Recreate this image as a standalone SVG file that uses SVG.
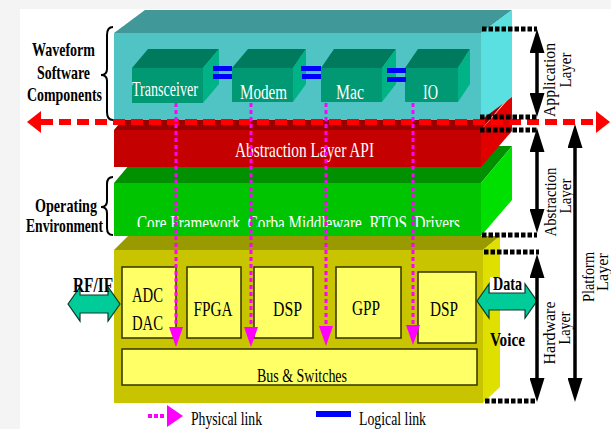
<svg xmlns="http://www.w3.org/2000/svg" width="611" height="429" viewBox="0 0 611 429">
<style>
text{font-family:"Liberation Serif","Times New Roman",serif;}
.lbl{font-weight:bold;font-size:19px;fill:#000;text-anchor:middle;}
.wt{fill:#fff;font-size:20px;text-anchor:middle;}
.hw{font-size:21px;fill:#000;text-anchor:middle;}
.rot{font-size:17px;fill:#000;text-anchor:middle;}
.leg{font-size:18px;fill:#000;}
.hbox{fill:#ffff66;stroke:#333300;stroke-width:1.5;}
.pink{stroke:#ff00ff;stroke-width:3;stroke-dasharray:4 3;fill:none;marker-end:url(#pa);}
.blk{stroke:#000;stroke-width:3.5;marker-start:url(#ba);marker-end:url(#ba);}
.dot{stroke:#000;stroke-width:5;stroke-dasharray:4.5 2;}
.blue{fill:#0000ff;}
.garrow{fill:#00cc99;stroke:#0a3a2a;stroke-width:1.2;}
.cf{fill:#009973;}.ct{fill:#007a5c;}.cr{fill:#00b386;}
.brace{fill:none;stroke:#000;stroke-width:2;}
</style>
<defs>
<marker id="pa" markerUnits="userSpaceOnUse" viewBox="0 0 20 14" markerWidth="20" markerHeight="14" refX="0" refY="7" orient="auto"><path d="M0,0 L20,7 L0,14 z" fill="#ff00ff"/></marker>
<marker id="ba" markerUnits="userSpaceOnUse" viewBox="0 0 24 15" markerWidth="24" markerHeight="15" refX="4" refY="7.5" orient="auto-start-reverse"><path d="M0,0 L24,7.5 L0,15 z" fill="#000"/></marker>
<marker id="ra" markerUnits="userSpaceOnUse" viewBox="0 0 14 22" markerWidth="14" markerHeight="22" refX="0" refY="11" orient="auto-start-reverse"><path d="M0,0 L14,11 L0,22 z" fill="#ff0000"/></marker>
<clipPath id="cfclip"><rect x="114" y="183" width="367" height="44"/></clipPath>
</defs>
<rect x="0" y="0" width="611" height="429" fill="#f4f4f4"/>
<rect x="20" y="9" width="591" height="420" fill="#fff"/>

<g id="hardware-layer-box">
<polygon points="114,250 128,236 500,236 483,250" fill="#999900"/>
<polygon points="483,250 500,236 500,387 483,403" fill="#e0e000"/>
<rect x="114" y="250" width="369" height="153" fill="#c8c400"/>
</g>
<g id="os-layer-box">
<polygon points="114,183 145,146 512,146 481,183" fill="#009000"/>
<polygon points="481,183 512,146 512,200 481,236" fill="#00e000"/>
<rect x="114" y="183" width="367" height="53" fill="#00c400"/>
<text class="wt" x="298.5" y="230" textLength="323" lengthAdjust="spacingAndGlyphs" clip-path="url(#cfclip)">Core Framework, Corba Middleware, RTOS, Drivers</text>
</g>
<g id="api-layer-box">
<polygon points="114,130 145,93 512,93 481,130" fill="#990000"/>
<polygon points="481,130 512,95 512,131 481,167" fill="#e00000"/>
<rect x="114" y="130" width="367" height="37" fill="#c40000"/>
<text class="wt" x="304.5" y="157" textLength="139" lengthAdjust="spacingAndGlyphs" style="font-size:21px">Abstraction Layer API</text>
</g>
<g id="application-layer-box">
<polygon points="114,33 145,10 512,10 481,33" fill="#409898"/>
<polygon points="481,33 512,10 512,97 481,120" fill="#5ae0e0"/>
<rect x="114" y="33" width="367" height="87" fill="#50c4c4"/>
</g>

<g id="transceiver">
<polygon class="ct" points="132,68 148,49 219,49 203,68"/>
<polygon class="cr" points="203,68 219,49 219,84 203,103"/>
<rect class="cf" x="132" y="68" width="71" height="35"/>
<text class="wt" x="165" y="96" textLength="66" lengthAdjust="spacingAndGlyphs">Transceiver</text>
</g>
<g id="modem">
<polygon class="ct" points="232,68 248,49 306,49 293,68"/>
<polygon class="cr" points="293,68 306,49 306,84 293,102"/>
<rect class="cf" x="232" y="68" width="61" height="34"/>
<text class="wt" x="263.5" y="99" textLength="47" lengthAdjust="spacingAndGlyphs">Modem</text>
</g>
<g id="mac">
<polygon class="ct" points="321,68 334,49 396,49 382,68"/>
<polygon class="cr" points="382,68 396,49 396,84 382,102"/>
<rect class="cf" x="321" y="68" width="61" height="34"/>
<text class="wt" x="350" y="99" textLength="28" lengthAdjust="spacingAndGlyphs">Mac</text>
</g>
<g id="io">
<polygon class="ct" points="405,68 418,49 470,49 458,68"/>
<polygon class="cr" points="458,68 470,49 470,84 458,102"/>
<rect class="cf" x="405" y="68" width="53" height="34"/>
<text class="wt" x="430.5" y="99" textLength="15" lengthAdjust="spacingAndGlyphs">IO</text>
</g>

<g id="adc-dac">
<rect class="hbox" x="122" y="267" width="54" height="71"/>
<text class="hw" x="147.5" y="302" textLength="31" lengthAdjust="spacingAndGlyphs">ADC</text>
<text class="hw" x="147.5" y="330" textLength="31" lengthAdjust="spacingAndGlyphs">DAC</text>
</g>
<g id="fpga">
<rect class="hbox" x="187" y="267" width="54" height="71"/>
<text class="hw" x="213" y="316" textLength="39" lengthAdjust="spacingAndGlyphs">FPGA</text>
</g>
<g id="dsp1">
<rect class="hbox" x="254" y="267" width="59" height="71"/>
<text class="hw" x="287.5" y="316" textLength="29" lengthAdjust="spacingAndGlyphs">DSP</text>
</g>
<g id="gpp">
<rect class="hbox" x="336" y="267" width="65" height="71"/>
<text class="hw" x="366" y="315" textLength="28" lengthAdjust="spacingAndGlyphs">GPP</text>
</g>
<g id="dsp2">
<rect class="hbox" x="418" y="272" width="58" height="71"/>
<text class="hw" x="444" y="316" textLength="28" lengthAdjust="spacingAndGlyphs">DSP</text>
</g>
<g id="bus">
<rect class="hbox" x="122" y="349" width="355" height="36"/>
<text class="hw" x="302" y="382" style="font-size:19px" textLength="90" lengthAdjust="spacingAndGlyphs">Bus &amp; Switches</text>
</g>

<g id="side-labels">
<path class="brace" d="M113,27 Q107,27 107,35 L107,69 Q107,75 101,75 Q107,75 107,81 L107,112 Q107,120 113,120"/>
<text class="lbl" x="63.5" y="56" textLength="63" lengthAdjust="spacingAndGlyphs">Waveform</text>
<text class="lbl" x="63.5" y="79" textLength="53" lengthAdjust="spacingAndGlyphs">Software</text>
<text class="lbl" x="64.5" y="101" textLength="75" lengthAdjust="spacingAndGlyphs">Components</text>
<path class="brace" d="M113,177 Q107,177 107,184 L107,201 Q107,207 101,207 Q107,207 107,213 L107,228 Q107,235 113,235"/>
<text class="lbl" x="66" y="212" textLength="62" lengthAdjust="spacingAndGlyphs">Operating</text>
<text class="lbl" x="64.5" y="232" textLength="77" lengthAdjust="spacingAndGlyphs">Environment</text>
</g>

<g id="connectors">
<line x1="41" y1="122" x2="596" y2="122" stroke="#ff0000" stroke-width="6" stroke-dasharray="12 6" marker-start="url(#ra)" marker-end="url(#ra)"/>
<rect class="blue" x="213" y="66" width="19" height="5"/>
<rect class="blue" x="213" y="74" width="19" height="5"/>
<rect class="blue" x="301" y="66" width="20" height="5"/>
<rect class="blue" x="302" y="74" width="19" height="5"/>
<rect class="blue" x="387" y="68" width="19" height="5"/>
<rect class="blue" x="387" y="77" width="19" height="5"/>
<line class="pink" x1="176" y1="103" x2="176" y2="327"/>
<line class="pink" x1="251" y1="103" x2="251" y2="327"/>
<line class="pink" x1="326" y1="103" x2="326" y2="326"/>
<line class="pink" x1="413" y1="103" x2="413" y2="325"/>
<polygon class="garrow" points="68,304 80,287 80,295 108,295 108,287 120,304 108,321 108,313 80,313 80,321"/>
<text class="lbl" x="93" y="292" style="font-size:21px" textLength="40" lengthAdjust="spacingAndGlyphs">RF/IF</text>
<rect x="490" y="277" width="34" height="17" fill="#fff"/>
<polygon class="garrow" points="477,301 489,284 489,293 525,293 525,284 537,301 525,318 525,310 489,310 489,318"/>
<text class="lbl" x="507.5" y="290" textLength="29" lengthAdjust="spacingAndGlyphs">Data</text>
<text class="lbl" x="507.5" y="346" textLength="35" lengthAdjust="spacingAndGlyphs">Voice</text>
<line class="dot" x1="482" y1="29" x2="537" y2="29"/>
<line class="dot" x1="480" y1="117" x2="537" y2="117"/>
<line class="dot" x1="480" y1="130" x2="537" y2="130"/>
<line class="dot" x1="482" y1="235" x2="537" y2="235"/>
<line class="dot" x1="484" y1="252" x2="539" y2="252"/>
<line class="dot" x1="485" y1="401" x2="537" y2="401"/>
<line class="blk" x1="537" y1="49" x2="537" y2="97"/>
<line class="blk" x1="537" y1="148" x2="537" y2="213"/>
<line class="blk" x1="537" y1="274" x2="537" y2="382"/>
<line class="blk" x1="575" y1="144" x2="575" y2="382"/>
</g>

<g id="layer-labels">
<text class="rot" transform="translate(555,80) rotate(-90)" textLength="74" lengthAdjust="spacingAndGlyphs">Application</text>
<text class="rot" transform="translate(571,70) rotate(-90)" textLength="35" lengthAdjust="spacingAndGlyphs">Layer</text>
<text class="rot" transform="translate(556,202) rotate(-90)" textLength="69" lengthAdjust="spacingAndGlyphs">Abstraction</text>
<text class="rot" transform="translate(571,196) rotate(-90)" textLength="35" lengthAdjust="spacingAndGlyphs">Layer</text>
<text class="rot" transform="translate(555,333) rotate(-90)" textLength="63" lengthAdjust="spacingAndGlyphs">Hardware</text>
<text class="rot" transform="translate(570,328) rotate(-90)" textLength="33" lengthAdjust="spacingAndGlyphs">Layer</text>
<text class="rot" transform="translate(594,277) rotate(-90)" textLength="50" lengthAdjust="spacingAndGlyphs">Platform</text>
<text class="rot" transform="translate(608,272) rotate(-90)" textLength="38" lengthAdjust="spacingAndGlyphs">Layer</text>
</g>

<g id="legend">
<line x1="148" y1="416" x2="166" y2="416" stroke="#ff00ff" stroke-width="4" stroke-dasharray="4 2"/>
<polygon points="167,405 183,416 167,427" fill="#ff00ff"/>
<text class="leg" x="191" y="425" textLength="71" lengthAdjust="spacingAndGlyphs">Physical link</text>
<rect class="blue" x="316" y="411" width="35" height="6"/>
<text class="leg" x="359" y="425" textLength="67" lengthAdjust="spacingAndGlyphs">Logical link</text>
</g>
</svg>
